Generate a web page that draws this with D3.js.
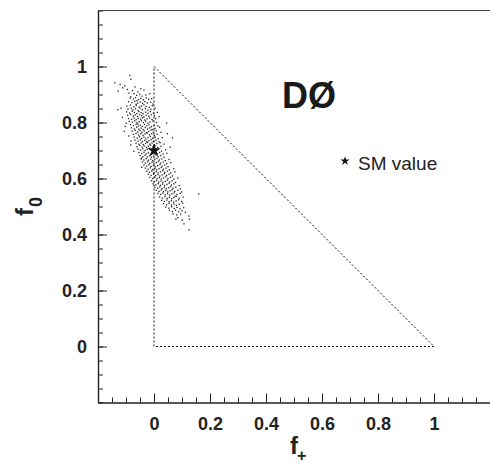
<!DOCTYPE html>
<html>
<head>
<meta charset="utf-8">
<script src="https://cdn.jsdelivr.net/npm/d3@7"></script>
<style>
  body { margin: 0; background: #fff; }
  svg { font-family: "Liberation Sans", Arial, sans-serif; }
</style>
</head>
<body>
<svg id="chart" width="490" height="467"></svg>
<script>
const cloud = [
  [-0.140,0.942],[-0.121,0.936],[-0.104,0.931],[-0.086,0.968],[-0.083,0.955],
  [-0.112,0.924],[-0.068,0.927],[-0.047,0.921],[-0.095,0.918],
  [-0.128,0.912],[-0.077,0.914],[-0.058,0.909],[-0.036,0.916],[-0.089,0.905],
  [-0.071,0.903],[-0.062,0.897],[-0.051,0.901],[-0.043,0.894],[-0.029,0.898],[-0.083,0.892],[-0.015,0.903],
  [-0.085,0.887],[-0.074,0.884],[-0.066,0.889],[-0.055,0.882],[-0.047,0.886],[-0.038,0.881],[-0.027,0.888],[-0.019,0.883],[-0.008,0.885],[-0.061,0.878],
  [-0.091,0.874],[-0.079,0.871],[-0.069,0.876],[-0.058,0.869],[-0.049,0.873],[-0.041,0.868],[-0.033,0.875],[-0.024,0.870],[-0.012,0.872],[-0.003,0.866],[-0.064,0.865],
  [-0.097,0.858],[-0.084,0.862],[-0.072,0.856],[-0.063,0.861],[-0.053,0.855],[-0.045,0.859],[-0.036,0.863],[-0.028,0.857],[-0.017,0.854],[-0.006,0.860],[-0.129,0.846],
  [-0.093,0.848],[-0.081,0.851],[-0.075,0.845],[-0.066,0.849],[-0.057,0.843],[-0.050,0.852],[-0.042,0.846],[-0.031,0.850],[-0.022,0.844],[-0.011,0.847],[0.004,0.851],
  [-0.098,0.838],[-0.087,0.834],[-0.078,0.840],[-0.070,0.836],[-0.061,0.832],[-0.054,0.839],[-0.046,0.835],[-0.039,0.831],[-0.030,0.837],[-0.021,0.833],[-0.013,0.839],[-0.002,0.834],[0.012,0.836],
  [-0.094,0.826],[-0.083,0.829],[-0.074,0.823],[-0.067,0.827],[-0.059,0.821],[-0.051,0.828],[-0.044,0.824],[-0.036,0.820],[-0.028,0.826],[-0.019,0.822],[-0.010,0.828],[0.001,0.824],[-0.113,0.818],[0.018,0.821],
  [-0.091,0.814],[-0.080,0.811],[-0.071,0.816],[-0.064,0.810],[-0.056,0.815],[-0.048,0.812],[-0.041,0.817],[-0.033,0.809],[-0.025,0.813],[-0.016,0.816],[-0.007,0.811],[0.006,0.814],
  [-0.088,0.804],[-0.077,0.801],[-0.069,0.806],[-0.061,0.799],[-0.053,0.803],[-0.045,0.807],[-0.038,0.800],[-0.030,0.805],[-0.022,0.798],[-0.014,0.802],[-0.004,0.806],[0.009,0.800],[-0.058,0.795],
  [-0.084,0.792],[-0.073,0.789],[-0.064,0.794],[-0.056,0.787],[-0.049,0.791],[-0.042,0.786],[-0.034,0.793],[-0.026,0.788],[-0.018,0.792],[-0.009,0.785],[0.000,0.790],[0.014,0.788],[-0.103,0.786],
  [-0.081,0.781],[-0.070,0.777],[-0.062,0.783],[-0.054,0.776],[-0.046,0.780],[-0.039,0.775],[-0.031,0.782],[-0.023,0.777],[-0.015,0.781],[-0.006,0.775],[0.004,0.779],[0.020,0.783],
  [-0.078,0.769],[-0.067,0.772],[-0.058,0.766],[-0.050,0.771],[-0.043,0.765],[-0.035,0.770],[-0.027,0.764],[-0.019,0.768],[-0.011,0.773],[-0.002,0.766],[0.008,0.770],[0.025,0.765],
  [-0.074,0.758],[-0.064,0.761],[-0.055,0.755],[-0.047,0.760],[-0.039,0.754],[-0.032,0.759],[-0.024,0.762],[-0.016,0.756],[-0.008,0.760],[0.001,0.754],[0.011,0.758],[-0.090,0.752],
  [-0.071,0.748],[-0.060,0.744],[-0.052,0.749],[-0.044,0.743],[-0.036,0.747],[-0.029,0.742],[-0.021,0.746],[-0.013,0.750],[-0.005,0.744],[0.004,0.748],[0.015,0.742],[0.030,0.746],
  [-0.068,0.737],[-0.057,0.733],[-0.049,0.738],[-0.041,0.732],[-0.033,0.736],[-0.026,0.731],[-0.018,0.735],[-0.010,0.739],[-0.002,0.733],[0.007,0.737],[0.018,0.731],[-0.082,0.734],
  [-0.064,0.726],[-0.054,0.722],[-0.046,0.727],[-0.038,0.721],[-0.030,0.725],[-0.023,0.729],[-0.015,0.723],[-0.007,0.727],[0.001,0.721],[0.010,0.725],[0.022,0.728],[0.036,0.723],
  [-0.061,0.714],[-0.051,0.718],[-0.043,0.712],[-0.035,0.716],[-0.027,0.711],[-0.020,0.715],[-0.012,0.719],[-0.004,0.713],[0.004,0.717],[0.013,0.711],[0.025,0.715],
  [-0.058,0.705],[-0.048,0.701],[-0.040,0.706],[-0.032,0.700],[-0.024,0.704],[-0.017,0.708],[-0.009,0.702],[-0.002,0.706],[0.006,0.700],[0.015,0.704],[0.027,0.698],[0.041,0.702],[-0.072,0.697],
  [-0.054,0.693],[-0.044,0.689],[-0.036,0.694],[-0.028,0.688],[-0.020,0.692],[-0.013,0.687],[-0.005,0.691],[0.003,0.695],[0.011,0.689],[0.020,0.693],[0.032,0.687],[0.046,0.690],
  [-0.050,0.682],[-0.040,0.678],[-0.032,0.683],[-0.024,0.677],[-0.016,0.681],[-0.009,0.676],[-0.001,0.680],[0.007,0.684],[0.015,0.678],[0.024,0.682],[0.036,0.676],[-0.044,0.673],
  [-0.046,0.670],[-0.036,0.666],[-0.028,0.671],[-0.020,0.665],[-0.012,0.669],[-0.005,0.664],[0.003,0.668],[0.011,0.672],[0.019,0.666],[0.028,0.670],[0.040,0.664],[0.054,0.668],
  [-0.041,0.659],[-0.031,0.655],[-0.023,0.660],[-0.015,0.654],[-0.007,0.658],[0.000,0.653],[0.008,0.657],[0.016,0.661],[0.024,0.655],[0.033,0.659],[0.045,0.653],[0.060,0.657],
  [-0.036,0.648],[-0.026,0.644],[-0.018,0.649],[-0.010,0.643],[-0.002,0.647],[0.005,0.642],[0.013,0.646],[0.021,0.650],[0.029,0.644],[0.038,0.648],[0.050,0.642],[-0.044,0.640],
  [-0.031,0.637],[-0.021,0.633],[-0.013,0.638],[-0.005,0.632],[0.003,0.636],[0.010,0.631],[0.018,0.635],[0.026,0.639],[0.034,0.633],[0.043,0.637],[0.055,0.631],[0.070,0.635],
  [-0.026,0.626],[-0.016,0.622],[-0.008,0.627],[0.000,0.621],[0.008,0.625],[0.015,0.620],[0.023,0.624],[0.031,0.628],[0.039,0.622],[0.048,0.626],[0.060,0.620],[0.075,0.624],
  [-0.020,0.615],[-0.010,0.611],[-0.002,0.616],[0.006,0.610],[0.014,0.614],[0.021,0.609],[0.029,0.613],[0.037,0.617],[0.045,0.611],[0.054,0.615],[0.066,0.609],
  [-0.015,0.604],[-0.005,0.600],[0.003,0.605],[0.011,0.599],[0.019,0.603],[0.026,0.598],[0.034,0.602],[0.042,0.606],[0.050,0.600],[0.059,0.604],[0.071,0.598],[0.085,0.602],
  [-0.009,0.592],[0.001,0.588],[0.009,0.593],[0.017,0.587],[0.025,0.591],[0.032,0.586],[0.040,0.590],[0.048,0.594],[0.056,0.588],[0.065,0.592],[0.077,0.586],
  [-0.003,0.581],[0.007,0.577],[0.015,0.582],[0.023,0.576],[0.031,0.580],[0.038,0.575],[0.046,0.579],[0.054,0.583],[0.062,0.577],[0.071,0.581],[0.090,0.575],
  [0.003,0.569],[0.013,0.565],[0.021,0.570],[0.029,0.564],[0.037,0.568],[0.044,0.563],[0.052,0.567],[0.060,0.571],[0.068,0.565],[0.078,0.569],[0.094,0.563],
  [0.008,0.558],[0.018,0.554],[0.026,0.559],[0.034,0.553],[0.042,0.557],[0.049,0.552],[0.057,0.556],[0.065,0.560],[0.074,0.554],[0.085,0.558],[0.099,0.552],
  [0.014,0.547],[0.024,0.543],[0.032,0.548],[0.040,0.542],[0.048,0.546],[0.056,0.541],[0.064,0.545],[0.072,0.549],[0.082,0.543],[0.094,0.547],[0.075,0.537],
  [0.020,0.534],[0.030,0.530],[0.039,0.535],[0.047,0.529],[0.055,0.533],[0.063,0.528],[0.071,0.532],[0.080,0.536],[0.090,0.530],[0.104,0.534],
  [0.027,0.522],[0.037,0.518],[0.046,0.523],[0.054,0.517],[0.062,0.521],[0.070,0.516],[0.079,0.520],[0.088,0.524],[0.099,0.518],
  [0.034,0.510],[0.045,0.506],[0.054,0.511],[0.062,0.505],[0.071,0.509],[0.080,0.504],[0.090,0.508],[0.102,0.512],
  [0.042,0.498],[0.053,0.494],[0.063,0.499],[0.072,0.493],[0.082,0.497],[0.093,0.492],[0.106,0.496],
  [0.055,0.486],[0.066,0.482],[0.077,0.487],[0.088,0.481],[0.100,0.485],[0.112,0.479],
  [0.068,0.474],[0.081,0.470],[0.095,0.473],[0.125,0.466],[0.127,0.455],
  [0.085,0.460],[0.101,0.451],[0.125,0.417],[0.107,0.438],[0.160,0.545],[0.078,0.455],
  [-0.118,0.851],[-0.099,0.797],[-0.106,0.768],[-0.083,0.720],
  [0.045,0.798],[0.066,0.745],[0.058,0.712],[0.048,0.760]
];

// physical boundary: f0 >= 0, f+ >= 0, f0 + f+ <= 1
const triangle = [[0, 0], [0, 1], [1, 0]];
const smValue = [0, 0.7];

const majorTicks = [0, 0.2, 0.4, 0.6, 0.8, 1];
const minorTicks = d3.range(-0.2, 1.2001, 0.05);

const svg = d3.select("#chart");

const x = d3.scaleLinear().domain([-0.2, 1.2]).range([98, 490]);
const y = d3.scaleLinear().domain([-0.2, 1.2]).range([402.5, 10.5]);

const fmt = d => +d.toFixed(1);

// minor ticks (no labels)
svg.append("g")
    .attr("transform", `translate(0,${y(-0.2)})`)
    .call(d3.axisBottom(x).tickValues(minorTicks).tickSize(-5).tickSizeOuter(0).tickFormat(""));
svg.append("g")
    .attr("transform", `translate(${x(-0.2)},0)`)
    .call(d3.axisLeft(y).tickValues(minorTicks).tickSize(-5).tickSizeOuter(0).tickFormat(""));

// major ticks with labels
const xAxis = svg.append("g")
    .attr("transform", `translate(0,${y(-0.2)})`)
    .call(d3.axisBottom(x).tickValues(majorTicks).tickSize(-9).tickSizeOuter(0).tickPadding(15).tickFormat(fmt));
const yAxis = svg.append("g")
    .attr("transform", `translate(${x(-0.2)},0)`)
    .call(d3.axisLeft(y).tickValues(majorTicks).tickSize(-9).tickSizeOuter(0).tickPadding(11).tickFormat(fmt));

svg.selectAll(".tick line").attr("stroke", "#222");
svg.selectAll(".domain").attr("stroke", "#222").attr("stroke-width", 1.2);
[xAxis, yAxis].forEach(g => g.selectAll("text")
    .attr("font-family", "Liberation Sans, Arial, sans-serif")
    .attr("font-size", 18)
    .attr("font-weight", "bold")
    .attr("fill", "#222"));

// top frame line
svg.append("line")
    .attr("x1", x(-0.2)).attr("x2", x(1.2))
    .attr("y1", y(1.2)).attr("y2", y(1.2))
    .attr("stroke", "#444").attr("stroke-width", 1);

// scatter cloud
svg.append("g")
    .selectAll("rect")
    .data(cloud)
    .join("rect")
    .attr("x", d => x(d[0]) - 0.65)
    .attr("y", d => y(d[1]) - 0.65)
    .attr("width", 1.3)
    .attr("height", 1.3)
    .attr("fill", "#222");

// dotted triangle
svg.append("path")
    .datum(triangle)
    .attr("d", d3.line().x(d => x(d[0])).y(d => y(d[1])).curve(d3.curveLinearClosed))
    .attr("fill", "none")
    .attr("stroke", "#111")
    .attr("stroke-width", 1)
    .attr("stroke-dasharray", "2,2");

// SM star
svg.append("path")
    .attr("d", d3.symbol(d3.symbolStar, 55)())
    .attr("transform", `translate(${x(smValue[0])},${y(smValue[1])})`)
    .attr("fill", "#111");

// legend
svg.append("path")
    .attr("d", d3.symbol(d3.symbolStar, 26)())
    .attr("transform", "translate(345,161)")
    .attr("fill", "#111");
svg.append("text")
    .attr("x", 358).attr("y", 170)
    .attr("font-size", 19)
    .attr("fill", "#222")
    .text("SM value");

// DØ label
svg.append("text")
    .attr("x", 282).attr("y", 108)
    .attr("font-size", 36)
    .attr("font-weight", "bold")
    .attr("fill", "#1a1a1a")
    .text("DØ");

// axis titles
svg.append("text")
    .attr("x", 290).attr("y", 454)
    .attr("font-size", 24).attr("font-weight", "bold").attr("fill", "#222")
    .text("f");
svg.append("text")
    .attr("x", 297).attr("y", 461)
    .attr("font-size", 16).attr("font-weight", "bold").attr("fill", "#222")
    .text("+");

const yt = svg.append("g").attr("transform", "translate(33,216) rotate(-90)");
yt.append("text")
    .attr("font-size", 24).attr("font-weight", "bold").attr("fill", "#222")
    .text("f");
yt.append("text")
    .attr("x", 9).attr("y", 9)
    .attr("font-size", 18).attr("font-weight", "bold").attr("fill", "#222")
    .text("0");
</script>
</body>
</html>
